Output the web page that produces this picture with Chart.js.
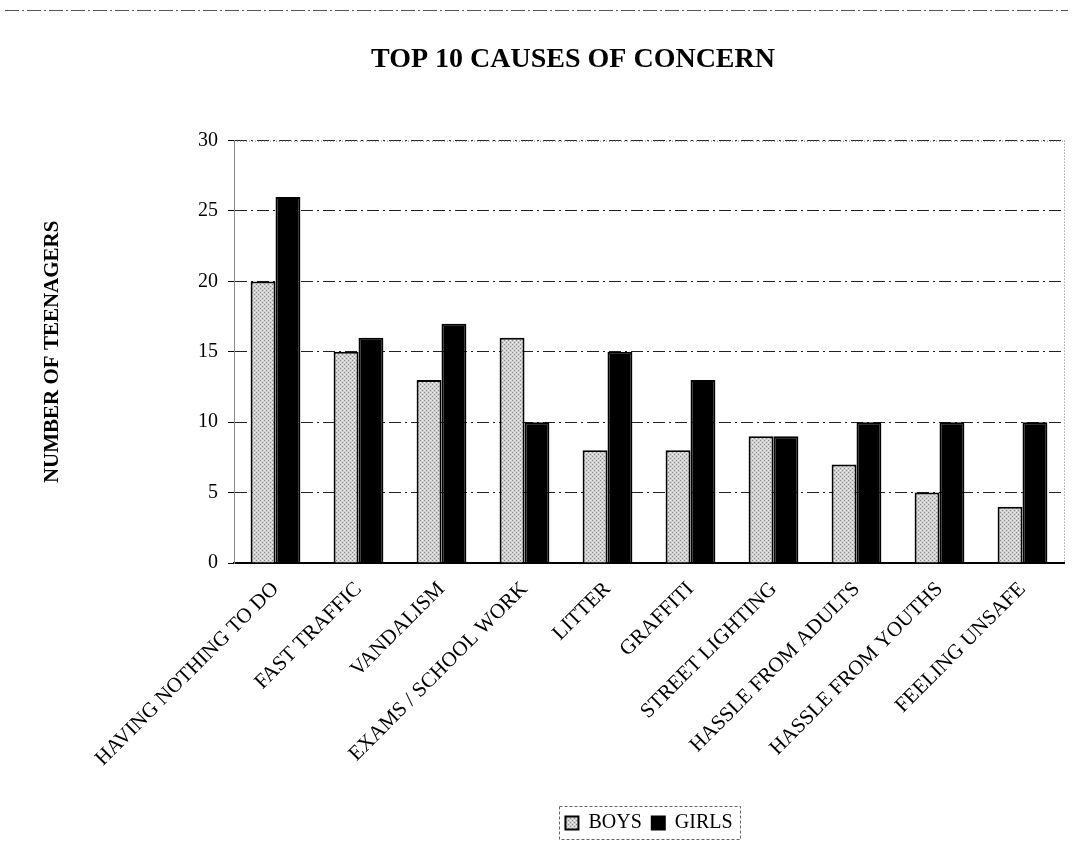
<!DOCTYPE html>
<html>
<head>
<meta charset="utf-8">
<script src="https://cdn.jsdelivr.net/npm/chart.js@4"></script>
<style>
html,body{margin:0;padding:0;background:#fff;}
#wrap{width:1073px;height:843px;}
</style>
</head>
<body>
<div id="wrap"><canvas id="c" width="1073" height="843"></canvas></div>
<script>
const categories = ["HAVING NOTHING TO DO","FAST TRAFFIC","VANDALISM","EXAMS / SCHOOL WORK","LITTER","GRAFFITI","STREET LIGHTING","HASSLE FROM ADULTS","HASSLE FROM YOUTHS","FEELING UNSAFE"];
const boys = [20,15,13,16,8,8,9,7,5,4];
const girls = [26,16,17,10,15,13,9,10,10,10];
const yTicks = [0,5,10,15,20,25,30];

function stipple(){
  const p = document.createElement('canvas');
  p.width = 4; p.height = 4;
  const g = p.getContext('2d');
  g.fillStyle = '#d0d0d0'; g.fillRect(0,0,4,4);
  g.fillStyle = '#888';
  g.fillRect(0,0,1,1); g.fillRect(2,2,1,1);
  g.fillStyle = '#f0f0f0';
  g.fillRect(2,0,1,1); g.fillRect(0,2,1,1);
  return g.createPattern(p,'repeat');
}
const boysFill = stipple();

const frame = {
  id:'frame',
  afterLayout(chart){
    const t = chart.titleBlock;
    if(t){ t.left += 41; t.right += 41; }
  },
  afterDraw(chart){
    const {ctx, chartArea:a} = chart;
    ctx.save();
    ctx.strokeStyle = '#555'; ctx.lineWidth = 1; ctx.setLineDash([14,3,2,3]);
    ctx.beginPath(); ctx.moveTo(5,10.5); ctx.lineTo(1068,10.5); ctx.stroke();
    ctx.strokeStyle = '#777'; ctx.setLineDash([1,2]);
    ctx.beginPath(); ctx.moveTo(a.left,a.top+0.5); ctx.lineTo(a.right,a.top+0.5);
    ctx.moveTo(a.right+0.5,a.top); ctx.lineTo(a.right+0.5,a.bottom); ctx.stroke();
    const L = chart.legend;
    if(L && L.legendHitBoxes.length){
      ctx.strokeStyle='#666'; ctx.setLineDash([3,2]);
      const h0 = L.legendHitBoxes[0];
      const last = L.legendHitBoxes[L.legendHitBoxes.length-1];
      const lx = h0.left - 6, rx = last.left + last.width + 8;
      const ty = h0.top - 7, by = h0.top + h0.height + 6;
      ctx.strokeRect(Math.round(lx)+0.5, Math.round(ty)+0.5, Math.round(rx-lx), Math.round(by-ty));
    }
    ctx.restore();
  }
};

new Chart(document.getElementById('c'), {
  type:'bar',
  data:{
    labels: categories,
    datasets:[
      {label:'BOYS', data:boys, backgroundColor:boysFill, borderColor:'#000', borderWidth:2},
      {label:'GIRLS', data:girls, backgroundColor:'#000', borderColor:'#000', borderWidth:2}
    ]
  },
  options:{
    responsive:false,
    animation:false,
    devicePixelRatio:1,
    layout:{padding:{left:0,right:9,top:0,bottom:0}},
    datasets:{bar:{categoryPercentage:0.6, barPercentage:1.0}},
    plugins:{
      title:{display:true, text:'TOP 10 CAUSES OF CONCERN', color:'#000',
        font:{family:'Liberation Serif', size:28, weight:'bold'}, padding:{top:43,bottom:64}},
      legend:{position:'bottom', fullSize:false, labels:{color:'#000', font:{family:'Liberation Serif', size:20},
        boxWidth:13, boxHeight:13, padding:10}},
      tooltip:{enabled:false}
    },
    scales:{
      x:{
        grid:{display:false},
        border:{color:'#000', width:2},
        ticks:{color:'#000', font:{family:'Liberation Serif', size:21}, maxRotation:45, minRotation:45, autoSkip:false, padding:6},
        afterFit(s){ s.height = 240; }
      },
      y:{
        min:0, max:30,
        afterBuildTicks(s){ s.ticks = yTicks.map(v=>({value:v})); },
        grid:{color:'#222', lineWidth:1, drawTicks:true, tickLength:6, tickColor:'#000'},
        border:{color:'#888', dash:[12,4,2,4], width:1},
        ticks:{color:'#000', font:{family:'Liberation Serif', size:20}, padding:10},
        title:{display:true, text:'NUMBER OF TEENAGERS', color:'#000',
          font:{family:'Liberation Serif', size:21, weight:'bold'}, padding:{top:40,bottom:0}},
        afterFit(s){ s.width = 234; }
      }
    }
  },
  plugins:[frame]
});
</script>
</body>
</html>
